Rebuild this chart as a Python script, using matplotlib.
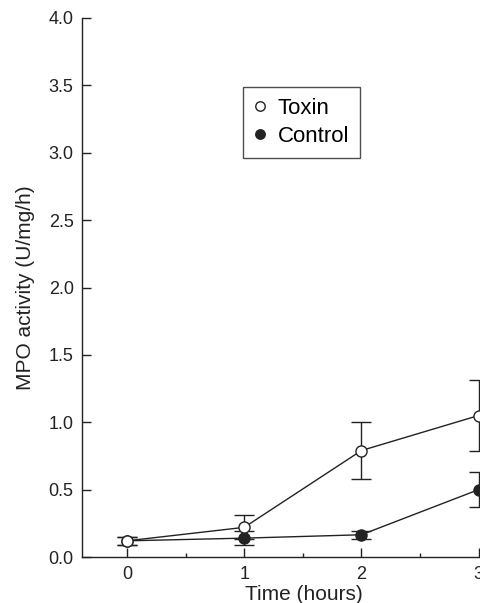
import matplotlib
matplotlib.use('Agg')
import matplotlib.pyplot as plt
from matplotlib.ticker import MultipleLocator

plt.rcParams['font.family'] = ['Liberation Sans', 'DejaVu Sans']

hours = [0, 1, 2, 3]
toxin = [0.12, 0.22, 0.79, 1.05]
toxin_err = [0.03, 0.09, 0.21, 0.26]
control = [0.12, 0.14, 0.165, 0.50]
control_err = [0.03, 0.05, 0.03, 0.13]

fig = plt.figure(figsize=(4.80, 6.03), dpi=100)
# axes runs past the right edge, as in the cropped original
x_left, x_right = -0.384, 3.5
px_per_unit = 117.2
ax_w = (x_right - x_left) * px_per_unit / 480
ax_wpx = ax_w * 480
ax = fig.add_axes([82 / 480, 46 / 603, ax_w, (557 - 18) / 603])

ink = '#222222'
ax.errorbar(hours, toxin, yerr=toxin_err, color=ink, lw=1.0, marker='o',
            mfc='white', mec=ink, ms=8, mew=1.0, capsize=7.2, elinewidth=1.0,
            capthick=1.0, label='Toxin', zorder=3)
ax.errorbar(hours, control, yerr=control_err, color=ink, lw=1.0, marker='o',
            mfc=ink, mec=ink, ms=8, mew=1.0, capsize=7.2, elinewidth=1.0,
            capthick=1.0, label='Control', zorder=2)

ax.set_xlim(x_left, x_right)
ax.set_ylim(0, 4.0)
ax.set_xticks(hours)
ax.xaxis.set_minor_locator(MultipleLocator(0.5))
ax.yaxis.set_major_locator(MultipleLocator(0.5))
ax.yaxis.set_major_formatter(plt.FormatStrFormatter('%.1f'))
ax.tick_params(which='both', direction='in', colors=ink, labelsize=13)
ax.tick_params(which='major', length=6.5, width=1.0)
ax.tick_params(which='minor', length=3, width=1.0)
ax.tick_params(axis='x', pad=6.5)
ax.tick_params(axis='y', pad=6)

for side in ['top', 'right']:
    ax.spines[side].set_visible(False)
for side in ['left', 'bottom']:
    ax.spines[side].set_color(ink)
    ax.spines[side].set_linewidth(1.0)

ax.set_xlabel('Time (hours)', fontsize=15, color=ink)
ax.xaxis.set_label_coords((304 - 82) / ax_wpx, -(585 - 557) / 539)
ax.set_ylabel('MPO activity (U/mg/h)', fontsize=15, color=ink)
ax.yaxis.set_label_coords(-(82 - 35) / ax_wpx, 0.5)

handles, labels = ax.get_legend_handles_labels()
handles = [h[0] for h in handles]
leg = ax.legend(handles, labels, loc='upper left',
                bbox_to_anchor=((243 - 82) / ax_wpx, (557 - 87) / 539),
                borderaxespad=0, frameon=True, fancybox=False,
                edgecolor=ink, fontsize=16, handlelength=0.5,
                handletextpad=0.55, borderpad=0.5, labelspacing=0.3,
                markerscale=0.85)
leg.get_frame().set_linewidth(1.0)
for h in leg.legend_handles:
    h.set_linestyle('none')

fig.savefig('out.png', dpi=100)
